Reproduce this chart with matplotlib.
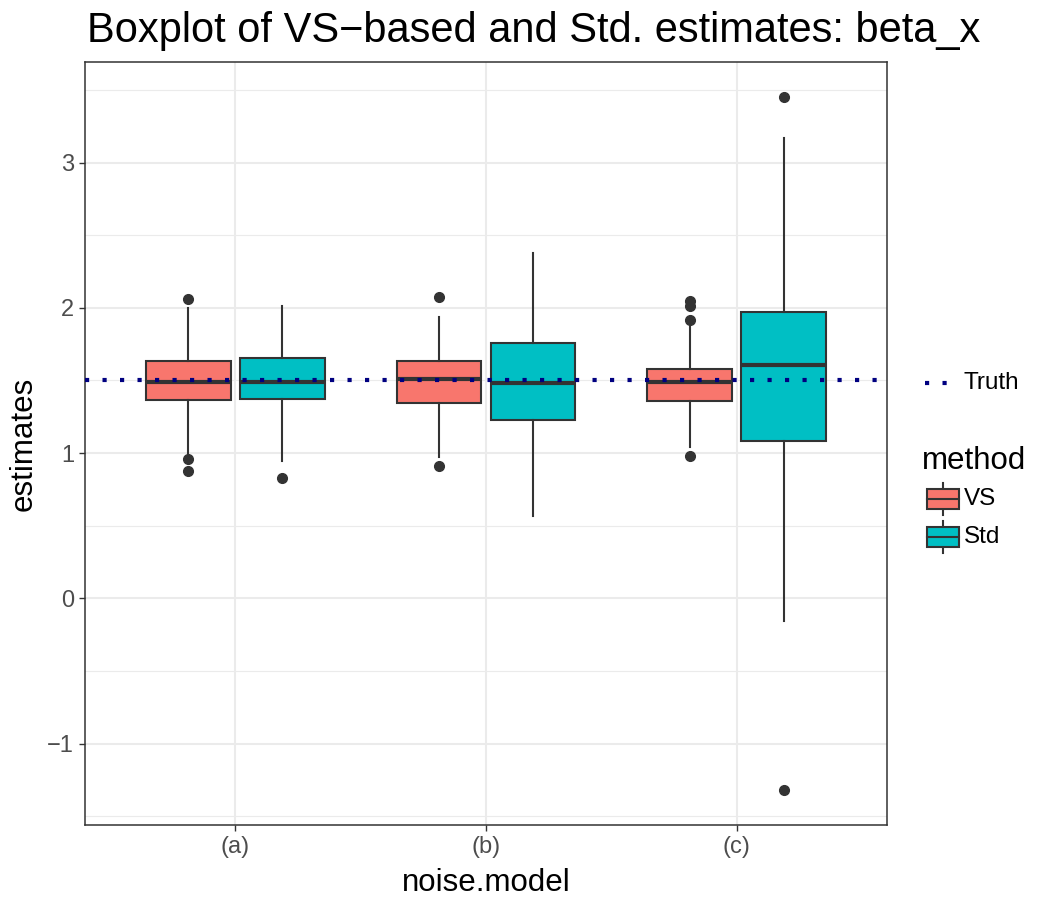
import matplotlib
matplotlib.use("Agg")
import matplotlib.pyplot as plt
import matplotlib.patches as patches
from matplotlib.ticker import MultipleLocator

plt.rcParams['font.family'] = ['Liberation Sans', 'DejaVu Sans']

# data
groups = ["(a)", "(b)", "(c)"]
methods = ["VS", "Std"]
colors = ["#F8766D", "#00BFC4"]
truth = 1.5

# per method, per group: whisker low, q1, median, q3, whisker high
vs_whislo = [0.99, 0.97, 1.04]
vs_q1 = [1.367, 1.347, 1.360]
vs_med = [1.486, 1.507, 1.486]
vs_q3 = [1.635, 1.632, 1.575]
vs_whishi = [1.996, 1.937, 1.875]
vs_fliers = [[2.062, 0.960, 0.875], [2.076, 0.914], [2.046, 2.012, 1.914, 0.978]]

std_whislo = [0.944, 0.564, -0.154]
std_q1 = [1.372, 1.230, 1.084]
std_med = [1.488, 1.479, 1.605]
std_q3 = [1.657, 1.758, 1.971]
std_whishi = [2.012, 2.378, 3.167]
std_fliers = [[0.825], [], [3.453, -1.322]]


def make_stats(lo, q1, med, q3, hi, fl):
    return [dict(whislo=a, q1=b, med=c, q3=d, whishi=e, fliers=f)
            for a, b, c, d, e, f in zip(lo, q1, med, q3, hi, fl)]


series = [
    make_stats(vs_whislo, vs_q1, vs_med, vs_q3, vs_whishi, vs_fliers),
    make_stats(std_whislo, std_q1, std_med, std_q3, std_whishi, std_fliers),
]

fig = plt.figure(figsize=(10.5, 9), dpi=100)
ax = fig.add_axes([85 / 1050, 75 / 900, 802 / 1050, 763 / 900])

edge = "#333333"
dotted = (0, (1, 3.2))
offsets = [-0.1875, 0.1875]
for k, stats in enumerate(series):
    pos = [i + 1 + offsets[k] for i in range(len(groups))]
    ax.bxp(stats, positions=pos, widths=0.3375, patch_artist=True,
           showcaps=False, manage_ticks=False,
           boxprops=dict(facecolor=colors[k], edgecolor=edge, linewidth=1.5),
           medianprops=dict(color=edge, linewidth=3.0),
           whiskerprops=dict(color=edge, linewidth=1.5),
           flierprops=dict(marker='o', markerfacecolor=edge, markeredgecolor=edge,
                           markersize=7),
           zorder=3)

ax.axhline(truth, color="#000080", linewidth=3.0, linestyle=dotted,
           dash_capstyle='butt', zorder=5)

ax.set_xlim(0.4, 3.6)
ax.set_ylim(-1.561, 3.692)
ax.set_xticks([1, 2, 3])
ax.set_xticklabels(groups)
ax.yaxis.set_minor_locator(MultipleLocator(0.5))
ax.set_yticks([-1, 0, 1, 2, 3])
ax.set_yticklabels(["\u22121", "0", "1", "2", "3"])
ax.grid(True, which='major', color="#EBEBEB", linewidth=1.5, zorder=0)
ax.grid(True, which='minor', axis='y', color="#EBEBEB", linewidth=0.8, zorder=0)
ax.set_axisbelow(True)
ax.tick_params(which='major', length=4, color="#333333", labelsize=17,
               labelcolor="#4D4D4D", width=1, pad=4)
ax.tick_params(which='minor', length=0)
for s in ax.spines.values():
    s.set_color("#333333")
    s.set_linewidth(1.1)

ax.set_xlabel("noise.model", fontsize=22.5, labelpad=7)
ax.set_ylabel("estimates", fontsize=22.5, labelpad=6)
fig.text(87 / 1050, 1 - 42 / 900, "Boxplot of VS\u2212based and Std. estimates: beta_x",
         fontsize=30, va='baseline', ha='left')

# legends drawn in figure pixel coordinates
lg = fig.add_axes([0, 0, 1, 1], facecolor='none')
lg.set_xlim(0, 1050)
lg.set_ylim(900, 0)
lg.axis('off')

lg.plot([925, 950], [383, 383], color="#000080", linewidth=3.0,
        linestyle=dotted, dash_capstyle='butt')
lg.text(964, 383, "Truth", fontsize=17.5, va='center', ha='left')

lg.text(922, 461, "method", fontsize=22.5, va='center', ha='left')
for k, (name, col) in enumerate(zip(methods, colors)):
    yc = 499 + k * 38
    lg.plot([943, 943], [yc - 16, yc + 16], color=edge, linewidth=1.5)
    lg.add_patch(patches.Rectangle((927, yc - 10), 32, 20, facecolor=col,
                                   edgecolor=edge, linewidth=1.5, zorder=3))
    lg.plot([927, 959], [yc, yc], color=edge, linewidth=1.5, zorder=4)
    lg.text(964, yc, name, fontsize=17.5, va='center', ha='left')

fig.savefig("out.png", dpi=100)
